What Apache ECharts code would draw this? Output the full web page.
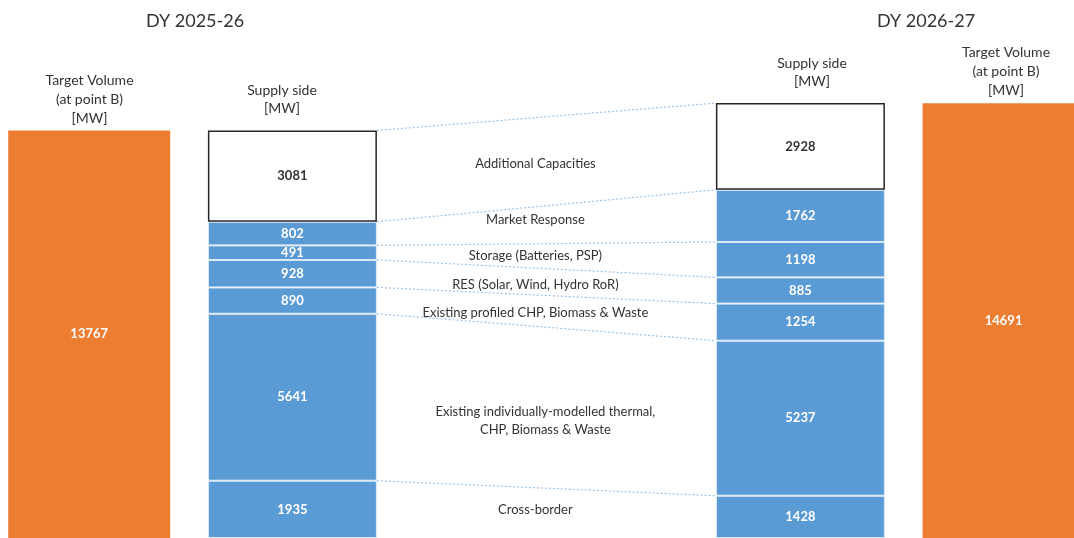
<!DOCTYPE html>
<html>
<head>
<meta charset="utf-8">
<title>Supply side vs target volume</title>
<script src="https://cdn.jsdelivr.net/npm/echarts@6/dist/echarts.min.js"></script>
<style>
  html, body { margin: 0; padding: 0; background: #fff; }
  #chart { width: 1074px; height: 538px; }
</style>
</head>
<body>
<div id="chart"></div>
<script>
// delivery years
const years = ['DY 2025-26', 'DY 2026-27']
// supply components, bottom to top of the stack
const components = [
  'Cross-border',
  'Existing individually-modelled thermal,\nCHP, Biomass & Waste',
  'Existing profiled CHP, Biomass & Waste',
  'RES (Solar, Wind, Hydro RoR)',
  'Storage (Batteries, PSP)',
  'Market Response',
  'Additional Capacities'
]
const supply2526 = [1935, 5641, 890, 928, 491, 802, 3081]
const supply2627 = [1428, 5237, 1254, 885, 1198, 1762, 2928]
const targetVolume = [13767, 14691]

// layout only: which category slot each column sits in
const SLOT_COUNT = 19
const TARGET_SLOTS = [0, 18]
const SUPPLY_SLOTS = [4, 14]
const TARGET_W = 162
const STACK_W = 169
// small hand offsets of the middle captions (px)
const labelNudgeX = [-11, -1, -11, -11, -11, -11, -11]
const labelNudgeY = [-3, 13, 1, 3, 0, -5, 3]
const FONT = 'Lato, "Open Sans", sans-serif'

const slots = Array.from({ length: SLOT_COUNT }, (_, i) => 'c' + i)

function slotData(where, values) {
  const arr = slots.map(() => '-')
  where.forEach((s, k) => { arr[s] = values[k] })
  return arr
}

// cumulative stack heights for the connector lines
const cumL = [0]
const cumR = [0]
supply2526.forEach((v, i) => cumL.push(cumL[i] + v))
supply2627.forEach((v, i) => cumR.push(cumR[i] + v))

const chart = echarts.init(document.getElementById('chart'))

const supplySeries = components.map((name, i) => {
  const isTop = i === components.length - 1
  return {
    name: name,
    type: 'bar',
    xAxisIndex: 1,
    stack: 'supply',
    barWidth: STACK_W,
    clip: false,
    z: isTop ? 3 : 2,
    data: slotData(SUPPLY_SLOTS, [supply2526[i], supply2627[i]]),
    itemStyle: isTop
      ? { color: '#fff', borderColor: '#262626', borderWidth: 1.5 }
      : { color: '#5B9BD5', borderColor: '#DEEBF7', borderWidth: 1 },
    label: {
      show: true,
      position: 'inside',
      color: isTop ? '#333' : '#fff',
      fontWeight: 'bold',
      fontSize: 13,
      fontFamily: FONT
    }
  }
})

const connectorSeries = {
  type: 'custom',
  xAxisIndex: 1,
  z: 1,
  encode: { x: 0, y: [1, 2, 3, 4] },
  data: components.map((c, i) => [SUPPLY_SLOTS[0], cumL[i + 1], cumR[i + 1], cumL[i], cumR[i]]),
  renderItem: function (params, api) {
    const i = params.dataIndex
    const lt = api.coord([SUPPLY_SLOTS[0], api.value(1)])
    const rt = api.coord([SUPPLY_SLOTS[1], api.value(2)])
    const lb = api.coord([SUPPLY_SLOTS[0], api.value(3)])
    const rb = api.coord([SUPPLY_SLOTS[1], api.value(4)])
    const x1 = lt[0] + STACK_W / 2
    const x2 = rt[0] - STACK_W / 2
    const midY = (lt[1] + rt[1] + lb[1] + rb[1]) / 4 + labelNudgeY[i]
    return {
      type: 'group',
      children: [
        {
          type: 'line',
          shape: { x1: x1, y1: lt[1], x2: x2, y2: rt[1] },
          style: { stroke: '#9DC3E6', lineWidth: 1.2, lineDash: [2, 2] }
        },
        {
          type: 'text',
          x: (x1 + x2) / 2 + labelNudgeX[i],
          y: midY,
          style: {
            text: components[i],
            fill: '#333',
            fontSize: 13,
            fontFamily: FONT,
            lineHeight: 18,
            align: 'center',
            verticalAlign: 'middle'
          }
        }
      ]
    }
  }
}

function headText(x, y, text, size, lh) {
  return {
    type: 'text',
    x: x,
    y: y,
    style: {
      text: text,
      fill: '#333',
      fontSize: size,
      fontFamily: FONT,
      lineHeight: lh,
      align: 'center',
      verticalAlign: 'middle'
    }
  }
}

const option = {
  animation: false,
  backgroundColor: '#fff',
  grid: { left: 63.8, right: 45, top: 94, bottom: -3 },
  xAxis: [
    { type: 'category', data: slots, show: false },
    { type: 'category', data: slots, show: false }
  ],
  yAxis: { type: 'value', min: 0, max: 15000, show: false },
  graphic: [
    headText(195, 21, years[0], 18, 22),
    headText(926, 21, years[1], 18, 22),
    headText(89.5, 99, 'Target Volume\n(at point B)\n[MW]', 14, 19),
    headText(282, 99, 'Supply side\n[MW]', 14, 18),
    headText(812, 72, 'Supply side\n[MW]', 14, 18),
    headText(1006, 71.5, 'Target Volume\n(at point B)\n[MW]', 14, 19)
  ],
  series: [
    {
      name: 'Target Volume',
      type: 'bar',
      xAxisIndex: 0,
      barWidth: TARGET_W,
      clip: false,
      data: slotData(TARGET_SLOTS, targetVolume),
      itemStyle: { color: '#ED7D31' },
      label: {
        show: true,
        position: 'inside',
        color: '#fff',
        fontWeight: 'bold',
        fontSize: 13,
        fontFamily: FONT
      }
    },
    ...supplySeries,
    connectorSeries
  ]
}

chart.setOption(option)
</script>
</body>
</html>
